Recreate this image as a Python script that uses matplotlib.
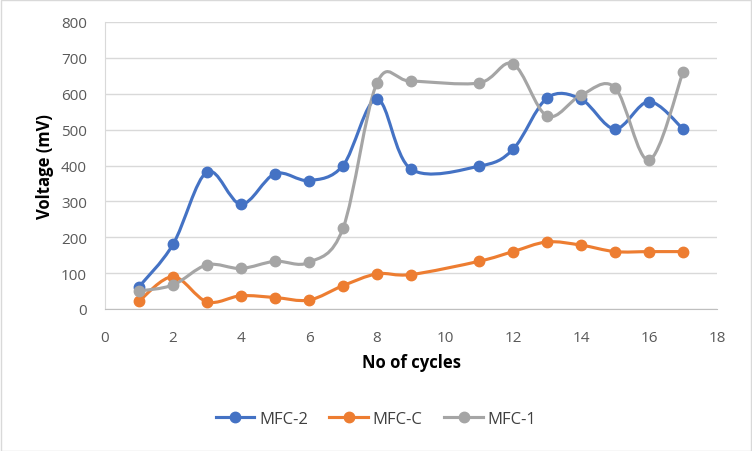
import numpy as np
import matplotlib
matplotlib.use('Agg')
import matplotlib.pyplot as plt
from matplotlib.path import Path
from matplotlib.patches import PathPatch
from matplotlib.lines import Line2D

plt.rcParams['font.family'] = ['Open Sans', 'DejaVu Sans']

# data
cycles = [1, 2, 3, 4, 5, 6, 7, 8, 9, 11, 12, 13, 14, 15, 16, 17]
mfc2 = [62, 180, 382, 292, 377, 358, 400, 585, 390, 398, 445, 588, 585, 502, 578, 502]
mfcc = [22, 90, 20, 37, 32, 25, 65, 98, 96, 133, 160, 187, 178, 160, 160, 160]
mfc1 = [50, 67, 123, 113, 133, 130, 225, 630, 635, 630, 683, 538, 596, 617, 415, 660]

names = ['MFC-2', 'MFC-C', 'MFC-1']
colors = ['#4472C4', '#ED7D31', '#A5A5A5']


def smooth_path(x, y):
    # Excel-style smoothed line: cubic bezier segments (Catmull-Rom control points)
    pts = np.column_stack([x, y]).astype(float)
    n = len(pts)
    verts = [pts[0]]
    codes = [Path.MOVETO]
    for i in range(n - 1):
        p0 = pts[i - 1] if i > 0 else pts[i]
        p1 = pts[i]
        p2 = pts[i + 1]
        p3 = pts[i + 2] if i + 2 < n else pts[i + 1]
        c1 = p1 + (p2 - p0) / 6.0
        c2 = p2 - (p3 - p1) / 6.0
        verts += [c1, c2, p2]
        codes += [Path.CURVE4] * 3
    return Path(verts, codes)


fig = plt.figure(figsize=(7.52, 4.52), dpi=100)
ax = fig.add_axes([105 / 752, 1 - 310 / 452, 612 / 752, 287 / 452])

handles = []
for ys, name, c in zip([mfc2, mfcc, mfc1], names, colors):
    patch = PathPatch(smooth_path(cycles, ys), facecolor='none', edgecolor=c,
                      lw=2.25, capstyle='round', joinstyle='round', zorder=3)
    ax.add_patch(patch)
    ax.plot(cycles, ys, 'o', color=c, ms=7.5, zorder=4)
    handles.append(Line2D([0], [0], color=c, lw=2.25, marker='o', ms=7.5))

ax.set_xlim(0, 18)
ax.set_ylim(0, 800)
ax.set_xticks(range(0, 19, 2))
ax.set_yticks(range(0, 801, 100))
ax.grid(axis='y', color='#D9D9D9', lw=1)
ax.set_axisbelow(True)
for s in ['top', 'right']:
    ax.spines[s].set_visible(False)
ax.spines['bottom'].set_color('#BFBFBF')
ax.spines['left'].set_color('#D9D9D9')
ax.tick_params(length=0, labelsize=11, colors='#595959')
ax.tick_params(axis='x', pad=15)
ax.tick_params(axis='y', pad=13)

ax.set_xlabel('No of cycles', fontsize=12, fontweight='bold', color='black', labelpad=6)
ax.set_ylabel('Voltage (mV)', fontsize=12, fontweight='bold', color='black', labelpad=5)

fig.legend(handles, names, loc='center', bbox_to_anchor=(0.5, 1 - 420 / 452), ncol=3,
           frameon=False, fontsize=12, handlelength=2.3, handletextpad=0.3,
           columnspacing=1.3, labelcolor='#404040')

fig.patches.append(plt.Rectangle((0.001, 0.001), 0.998, 0.997, transform=fig.transFigure,
                                 fill=False, edgecolor='#D9D9D9', lw=1))

fig.savefig('out.png', dpi=100)
